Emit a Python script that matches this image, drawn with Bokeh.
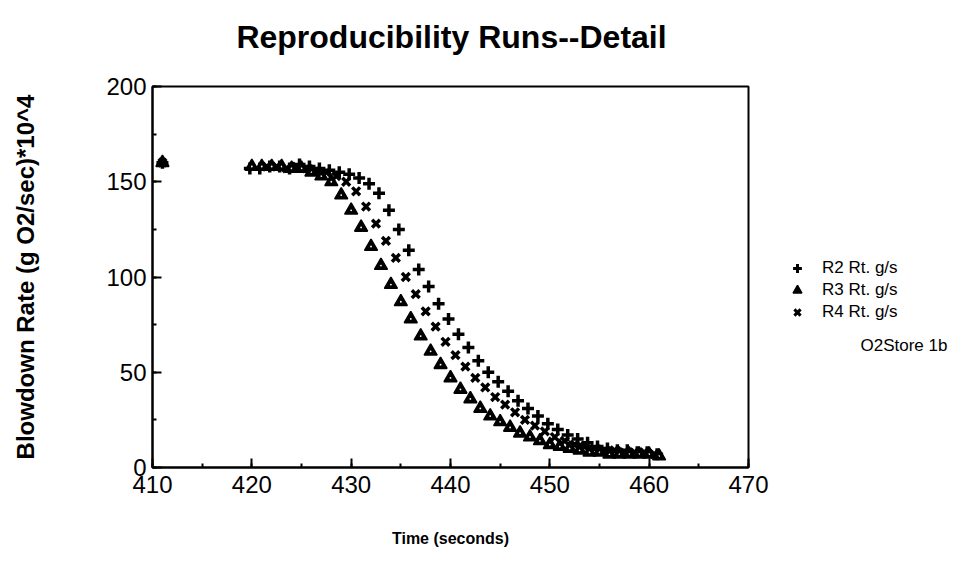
from bokeh.plotting import figure
from bokeh.layouts import row, column
from bokeh.models import Legend, LegendItem, Label, SingleIntervalTicker, Range1d
from bokeh.embed import file_html
from bokeh.resources import INLINE

# ---- data ----
r2_time = [411.0, 419.8, 420.8, 421.8, 422.8, 423.8, 424.8, 425.8, 426.8, 427.8, 428.8, 429.8,
           430.8, 431.8, 432.8, 433.8, 434.8, 435.8, 436.8, 437.8, 438.8, 439.8,
           440.8, 441.8, 442.8, 443.8, 444.8, 445.8, 446.8, 447.8, 448.8, 449.8,
           450.8, 451.8, 452.8, 453.8, 454.8, 455.8, 456.8, 457.8, 458.8, 459.8, 460.8]
r2_rate = [160, 157, 157, 158, 158, 157, 159, 158, 157, 156, 155, 154,
           152, 149, 144, 135, 125, 114, 104, 95, 86, 78,
           70, 63, 56, 50, 45, 40, 35, 31, 27, 23,
           20, 17, 15, 13, 11, 10, 9, 9, 8, 8, 7]

r3_time = [411.0, 420.0, 421.0, 422.0, 423.0, 424.0, 425.0, 426.0, 427.0, 428.0, 429.0,
           430.0, 431.0, 432.0, 433.0, 434.0, 435.0, 436.0, 437.0, 438.0, 439.0,
           440.0, 441.0, 442.0, 443.0, 444.0, 445.0, 446.0, 447.0, 448.0, 449.0,
           450.0, 451.0, 452.0, 453.0, 454.0, 455.0, 456.0, 457.0, 458.0, 459.0,
           460.0, 461.0]
r3_rate = [160, 158, 158, 158, 158, 157, 157, 155, 153, 150, 143,
           135, 126, 116, 106, 96, 87, 78, 69, 61, 54,
           47, 41, 36, 31, 27, 24, 21, 18, 16, 14,
           12, 11, 10, 9, 8, 8, 7, 7, 7, 7,
           7, 6]

r4_time = [411.0, 421.5, 422.5, 423.5, 424.5, 425.5, 426.5, 427.5, 428.5, 429.5,
           430.5, 431.5, 432.5, 433.5, 434.5, 435.5, 436.5, 437.5, 438.5, 439.5,
           440.5, 441.5, 442.5, 443.5, 444.5, 445.5, 446.5, 447.5, 448.5, 449.5,
           450.5, 451.5, 452.5, 453.5, 454.5, 455.5, 456.5, 457.5, 458.5, 459.5,
           460.5]
r4_rate = [160, 158, 158, 157, 158, 157, 156, 155, 153, 150,
           145, 137, 128, 119, 110, 100, 91, 82, 74, 66,
           59, 53, 47, 42, 37, 33, 29, 25, 22, 19,
           16, 14, 12, 11, 10, 9, 9, 8, 8, 8,
           7]

series_labels = ["R2 Rt. g/s", "R3 Rt. g/s", "R4 Rt. g/s"]
note_text = "O2Store 1b"
title_text = "Reproducibility Runs--Detail"
x_title = "Time (seconds)"
y_title = "Blowdown Rate (g O2/sec)*10^4"

FONT = "Liberation Sans"

# ---------------- title strip ----------------
head = figure(width=960, height=56, min_border=0,
              x_range=Range1d(0, 960), y_range=Range1d(0, 56),
              x_axis_location=None, y_axis_location=None,
              output_backend="svg", toolbar_location=None)
head.grid.visible = False
head.outline_line_color = None
head.background_fill_color = "white"
head.border_fill_color = "white"
head.add_layout(Label(x=451, y=20, text=title_text, text_font=FONT,
                      text_font_size="32px", text_font_style="bold",
                      text_color="black", text_align="center",
                      text_baseline="middle"))

# ---------------- main plot ----------------
p = figure(frame_width=596, frame_height=381,
           min_border_left=152, min_border_right=30,
           min_border_top=30, min_border_bottom=101,
           x_range=Range1d(410, 470), y_range=Range1d(0, 200),
           output_backend="svg", toolbar_location=None)

p.grid.visible = False
p.outline_line_color = "black"
p.outline_line_width = 2
p.outline_line_alpha = 1
p.background_fill_color = "white"
p.border_fill_color = "white"

p.xaxis.ticker = SingleIntervalTicker(interval=10, num_minor_ticks=2)
p.yaxis.ticker = SingleIntervalTicker(interval=50, num_minor_ticks=2)
for ax in (p.xaxis[0], p.yaxis[0]):
    ax.axis_line_width = 2
    ax.axis_line_color = "black"
    ax.major_tick_in = 9
    ax.major_tick_out = 0
    ax.minor_tick_in = 4
    ax.minor_tick_out = 0
    ax.major_tick_line_width = 2
    ax.minor_tick_line_width = 2
    ax.major_tick_line_color = "black"
    ax.minor_tick_line_color = "black"
    ax.major_label_text_font = FONT
    ax.major_label_text_font_size = "24px"
    ax.major_label_text_color = "black"
    ax.axis_label_text_font = FONT
    ax.axis_label_text_font_style = "bold"
    ax.axis_label_text_color = "black"

p.xaxis.major_label_standoff = 8
p.yaxis.major_label_standoff = 6
p.xaxis.axis_label = x_title
p.xaxis.axis_label_text_font_size = "16px"
p.xaxis.axis_label_standoff = 34
p.yaxis.axis_label = y_title
p.yaxis.axis_label_text_font_size = "24px"
p.yaxis.axis_label_standoff = 64

r2 = p.scatter(r2_time, r2_rate, marker="cross", size=12, line_width=3.5, line_color="black")
r3a = p.scatter(r3_time, r3_rate, marker="triangle", size=13, line_width=1.5,
                line_color="black", fill_color="black")
r3b = p.scatter(r3_time, r3_rate, marker="circle", size=1.8, line_width=0,
                fill_color="white", line_color=None)
r4 = p.scatter(r4_time, r4_rate, marker="x", size=11, line_width=3.5, line_color="black")

# ---------------- side panel: legend + note ----------------
# its frame is aligned with the main frame by the row layout (381 px tall)
side = figure(width=182, height=512, min_border=0,
              x_range=Range1d(0, 182), y_range=Range1d(0, 381),
              x_axis_location=None, y_axis_location=None,
              output_backend="svg", toolbar_location=None)
side.grid.visible = False
side.outline_line_color = None
side.background_fill_color = "white"
side.border_fill_color = "white"

# legend key renderers: same series, outside this panel's ranges (only the keys show)
k2 = side.scatter(r2_time, r2_rate, marker="cross", line_width=3, line_color="black")
k3 = side.scatter(r3_time, r3_rate, marker="triangle", line_width=1.5,
                  line_color="black", fill_color="black")
k4 = side.scatter(r4_time, r4_rate, marker="x", line_width=3, line_color="black")

legend = Legend(items=[LegendItem(label=series_labels[0], renderers=[k2]),
                       LegendItem(label=series_labels[1], renderers=[k3]),
                       LegendItem(label=series_labels[2], renderers=[k4])],
                location=(6, 144), orientation="vertical",
                glyph_width=26, glyph_height=22, label_standoff=12, spacing=0,
                padding=0, margin=0, label_height=22,
                label_text_font=FONT, label_text_font_size="17px",
                label_text_color="black",
                border_line_alpha=0, background_fill_alpha=0)
side.add_layout(legend, "center")

note = Label(x=82, y=122, text=note_text, text_font=FONT, text_font_size="17px",
             text_color="black", text_align="left", text_baseline="middle")
side.add_layout(note)

layout = column(head, row(p, side))
open("out.html", "w").write(file_html(layout, INLINE))
